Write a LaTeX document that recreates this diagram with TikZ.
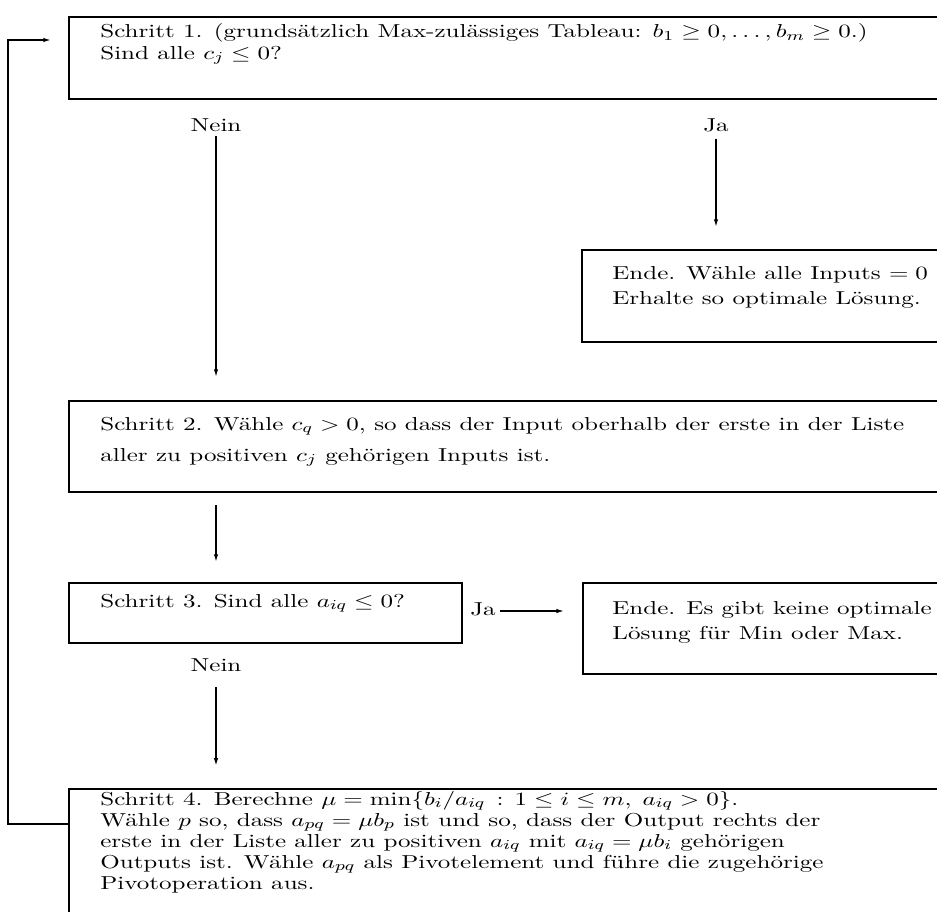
\documentclass[tikz,border=0pt]{standalone}
\usepackage{amsmath}
\usepackage{graphicx}
\usetikzlibrary{arrows.meta,fit}
\newcommand{\widetxt}[1]{\scalebox{1.338}[1]{#1}}
\begin{document}
\begin{tikzpicture}[x=0.585pt,y=-0.585pt,
  box/.style={draw,line width=1.1pt,inner sep=0pt},
  txt/.style={anchor=base west,inner sep=0pt,font=\fontsize{10.95}{13}\selectfont},
  lbl/.style={anchor=base,inner sep=0pt,font=\fontsize{10.95}{13}\selectfont},
  arr/.style={line width=0.8pt,-{Latex[length=4.5pt,width=2.6pt]}}]
\useasboundingbox (0,0) rectangle (937,911);
% boxes
\node[box,fit={(69,17) (945,99)}] (b1) {};
\node[box,fit={(582,250) (945,342)}] (e1) {};
\node[box,fit={(69,401) (945,492)}] (b2) {};
\node[box,fit={(69,583) (462,643)}] (b3) {};
\node[box,fit={(583,583) (945,674)}] (e2) {};
\node[box,fit={(69,789) (945,920)}] (b4) {};
% texts, one node per line
\node[txt] (t1a) at (100,38) {\widetxt{Schritt 1. (grundsätzlich Max-zulässiges Tableau: $b_1\geq 0,\ldots,b_m\geq 0$.)}};
\node[txt] (t1b) at (100,59) {\widetxt{Sind alle $c_j\leq 0$?}};
\node[txt] (te1a) at (612,279) {\widetxt{Ende. Wähle alle Inputs $=0$}};
\node[txt] (te1b) at (612,304) {\widetxt{Erhalte so optimale Lösung.}};
\node[txt] (t2a) at (100,430) {\widetxt{Schritt 2. Wähle $c_q>0$, so dass der Input oberhalb der erste in der Liste}};
\node[txt] (t2b) at (100,461) {\widetxt{aller zu positiven $c_j$ gehörigen Inputs ist.}};
\node[txt] (t3) at (100,607) {\widetxt{Schritt 3. Sind alle $a_{iq}\leq 0$?}};
\node[txt] (te2a) at (612,614) {\widetxt{Ende. Es gibt keine optimale}};
\node[txt] (te2b) at (612,639) {\widetxt{Lösung für Min oder Max.}};
\node[txt] (t4a) at (100,805) {\widetxt{Schritt 4. Berechne $\mu=\min\{b_i/a_{iq}\,:\,1\leq i\leq m,\;a_{iq}>0\}$.}};
\node[txt] (t4b) at (100,826) {\widetxt{Wähle $p$ so, dass $a_{pq}=\mu b_p$ ist und so, dass der Output rechts der}};
\node[txt] (t4c) at (100,847) {\widetxt{erste in der Liste aller zu positiven $a_{iq}$ mit $a_{iq}=\mu b_i$ gehörigen}};
\node[txt] (t4d) at (100,868) {\widetxt{Outputs ist. Wähle $a_{pq}$ als Pivotelement und führe die zugehörige}};
\node[txt] (t4e) at (100,889) {\widetxt{Pivotoperation aus.}};
% labels
\node[lbl] (n1) at (216,131) {\widetxt{Nein}};
\node[lbl] (j1) at (716,131) {\widetxt{Ja}};
\node[lbl,anchor=base west] (j2) at (470,615) {\widetxt{Ja}};
\node[lbl] (n2) at (216,671) {\widetxt{Nein}};
% connectors
\draw[arr,shorten <=2.5pt,shorten >=13.5pt] (n1.south) -- (n1.south |- b2.north);
\draw[arr,shorten <=4pt,shorten >=12.9pt] (j1.south) -- (j1.south |- e1.north);
\draw[arr,shorten <=7.6pt,shorten >=12.3pt] (216,492) -- (216,583);
\draw[arr,shorten <=2.5pt,shorten >=10.5pt] (j2.east |- 0,611) -- (e2.west |- 0,611);
\draw[arr,shorten <=9pt,shorten >=13pt] (n2.south) -- (n2.south |- b4.north);
\coordinate (l1) at (8,824);
\coordinate (l2) at (8,40);
\draw[arr,shorten >=10pt] (l1 -| b4.west) -- (l1) -- (l2) -- (l2 -| b1.west);
\end{tikzpicture}
\end{document}
